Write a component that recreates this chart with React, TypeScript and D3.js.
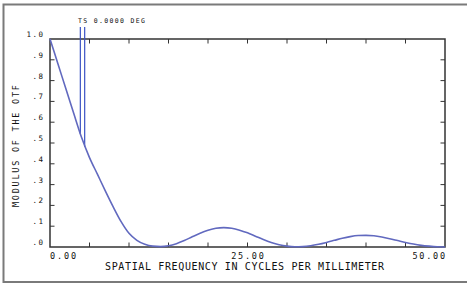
import React from 'react';
import * as d3 from 'd3';

// spatial frequency (cycles/mm) and modulus
const freqs = [
  0, 1, 2, 3, 4, 5, 6, 7, 8, 9, 10, 11, 12, 13, 14, 15, 16, 17, 18, 19, 20, 21, 22, 23, 24, 25,
  26, 27, 28, 29, 30, 31, 32, 33, 34, 35, 36, 37, 38, 39, 40, 41, 42, 43, 44, 45, 46, 47, 48, 49, 50,
];
const modulus = [
  1.0, 0.881, 0.762, 0.643, 0.526, 0.43, 0.35, 0.27, 0.193, 0.122, 0.066, 0.032, 0.013, 0.004, 0.002,
  0.006, 0.016, 0.031, 0.049, 0.066, 0.08, 0.09, 0.093, 0.09, 0.081, 0.068, 0.052, 0.036, 0.022, 0.011,
  0.004, 0.001, 0.002, 0.006, 0.013, 0.022, 0.032, 0.042, 0.05, 0.055, 0.056, 0.054, 0.048, 0.04, 0.031,
  0.022, 0.014, 0.008, 0.004, 0.001, 0.0,
];

// legend markers (T and S) drawn down to the curve
const markerFreqs = [3.84, 4.39];
const markerValues = [0.543, 0.482];

const xTickValues = [5, 10, 15, 20, 25, 30, 35, 40, 45];
const xLabelValues = [0, 25, 50];
const xLabelText = ['0.00', '25.00', '50.00'];
const yTickValues = [0.1, 0.2, 0.3, 0.4, 0.5, 0.6, 0.7, 0.8, 0.9];
const yLabelValues = [0, 0.1, 0.2, 0.3, 0.4, 0.5, 0.6, 0.7, 0.8, 0.9, 1.0];
const yLabelText = ['.0', '.1', '.2', '.3', '.4', '.5', '.6', '.7', '.8', '.9', '1.0'];

const W = 467;
const H = 287;
const plot = { left: 50, right: 445, top: 39, bottom: 247 };
const font = '"DejaVu Sans Mono", monospace';
const ink = '#111';

const App = () => {
  const x = d3.scaleLinear().domain([0, 50]).range([plot.left, plot.right]);
  const y = d3.scaleLinear().domain([0, 1]).range([plot.bottom, plot.top]);

  const line = d3
    .line<number>()
    .x((_, i) => x(freqs[i]))
    .y(d => y(d))
    .curve(d3.curveMonotoneX);

  const tick = 4.5;

  return (
    <svg width={W} height={H} style={{ position: 'absolute', left: 0, top: 0, background: '#fff' }}>
      {/* outer frame */}
      <rect x={3.5} y={4.5} width={470} height={277.5} fill="none" stroke="#7a7a7a" strokeWidth={2} />

      {/* plot box */}
      <rect
        x={plot.left}
        y={plot.top}
        width={plot.right - plot.left}
        height={plot.bottom - plot.top}
        fill="none"
        stroke="#333"
        strokeWidth={1.5}
      />

      {/* ticks */}
      {xTickValues.map(v => (
        <g key={'xt' + v} stroke="#333" strokeWidth={1}>
          <line x1={x(v)} x2={x(v)} y1={plot.top} y2={plot.top + tick} />
          <line x1={x(v)} x2={x(v)} y1={plot.bottom} y2={plot.bottom - tick} />
        </g>
      ))}
      {yTickValues.map(v => (
        <g key={'yt' + v} stroke="#333" strokeWidth={1}>
          <line x1={plot.left} x2={plot.left + tick} y1={y(v)} y2={y(v)} />
          <line x1={plot.right} x2={plot.right - tick} y1={y(v)} y2={y(v)} />
        </g>
      ))}

      {/* y labels */}
      {yLabelValues.map((v, i) => (
        <text
          key={'yl' + v}
          x={44.5}
          y={y(v) - 2}
          textAnchor="end"
          fontFamily={font}
          fontSize={7.5}
          letterSpacing={1.5}
          fill={ink}
        >
          {yLabelText[i]}
        </text>
      ))}

      {/* x labels */}
      {xLabelValues.map((v, i) => (
        <text
          key={'xl' + v}
          x={x(v)}
          y={258.5}
          textAnchor={i === 0 ? 'start' : i === 1 ? 'middle' : 'end'}
          fontFamily={font}
          fontSize={8.5}
          fill={ink}
          textLength={xLabelText[i].length * 6.5}
          lengthAdjust="spacing"
        >
          {xLabelText[i]}
        </text>
      ))}

      {/* axis titles */}
      <text x={105} y={270} fontFamily={font} fontSize={10} fill={ink} textLength={279} lengthAdjust="spacing">
        SPATIAL FREQUENCY IN CYCLES PER MILLIMETER
      </text>
      <text
        transform={`translate(18.5,${(plot.top + plot.bottom) / 2 + 3}) rotate(-90)`}
        textAnchor="middle"
        fontFamily={font}
        fontSize={8.5}
        fill={ink}
        textLength={122}
        lengthAdjust="spacing"
      >
        MODULUS OF THE OTF
      </text>

      {/* legend title */}
      <text x={78} y={23} fontFamily={font} fontSize={6.5} fill={ink} textLength={67} lengthAdjust="spacing">
        TS 0.0000 DEG
      </text>

      {/* legend markers */}
      {markerFreqs.map((f, i) => (
        <line
          key={'m' + f}
          x1={x(f)}
          x2={x(f)}
          y1={27}
          y2={y(markerValues[i])}
          stroke="#3a52c4"
          strokeWidth={1.2}
        />
      ))}

      {/* MTF curve */}
      <path d={line(modulus) || ''} fill="none" stroke="#6169bf" strokeWidth={1.6} />
    </svg>
  );
};

export default App;
